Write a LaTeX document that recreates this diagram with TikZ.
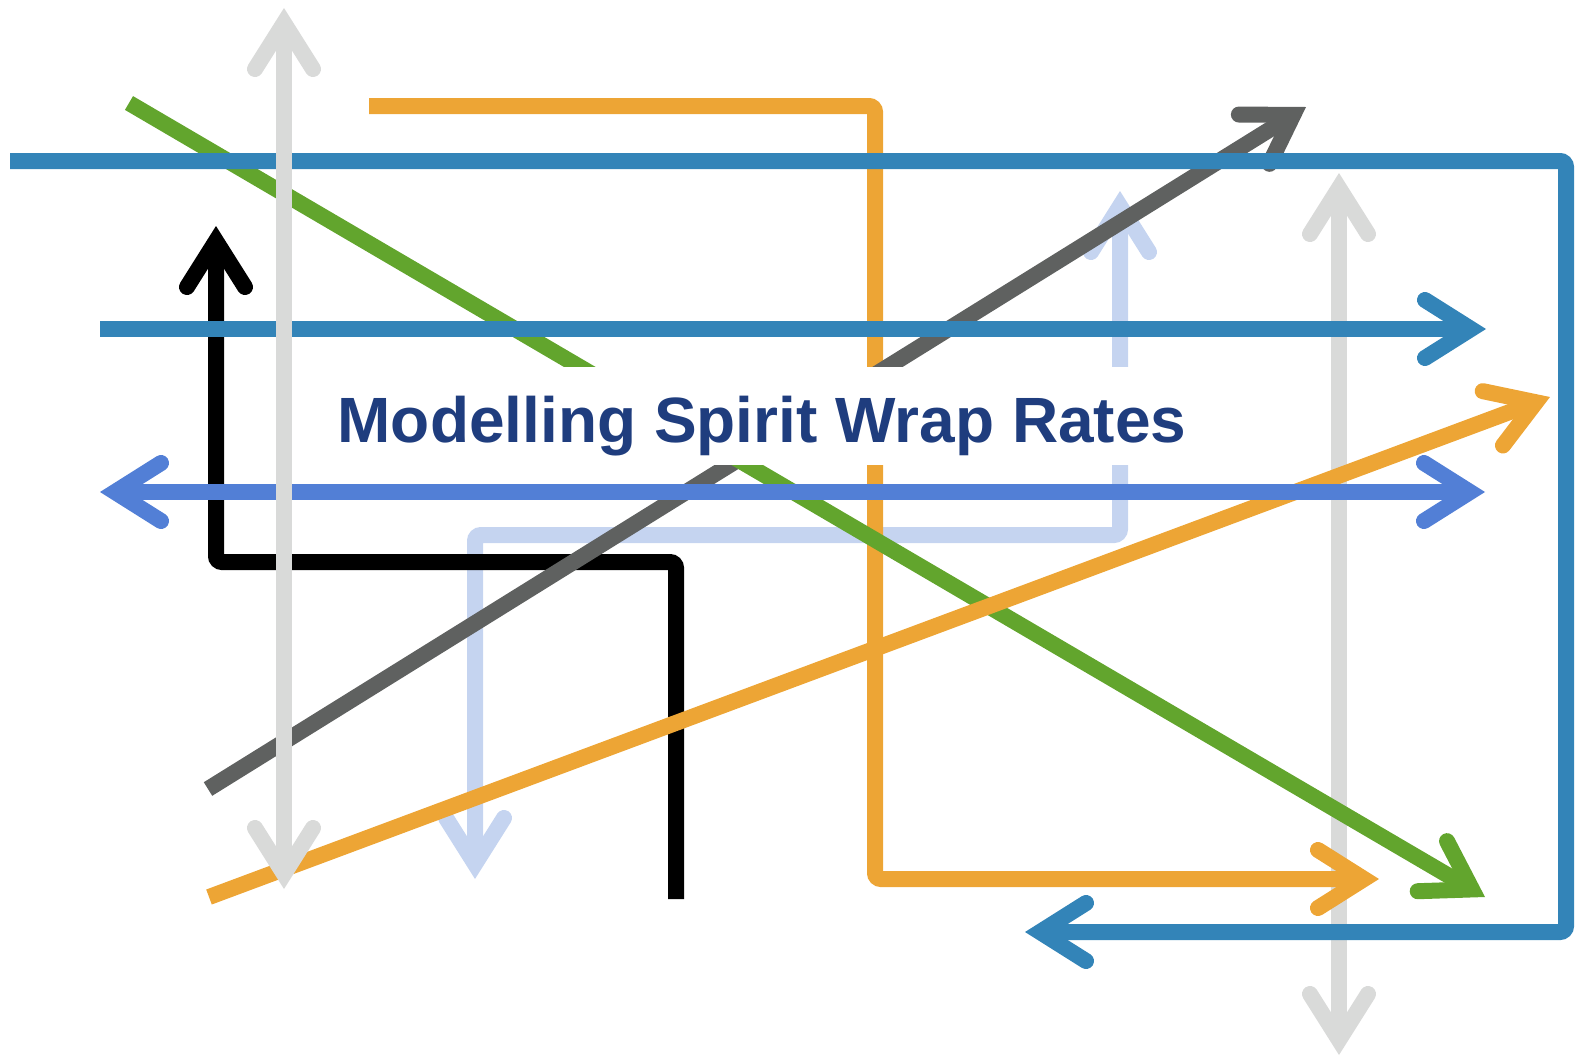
\documentclass[tikz,border=0pt]{standalone}
\usepackage{fontspec}
\setmainfont{Liberation Sans}
\usetikzlibrary{arrows.meta}

\definecolor{steelblue}{RGB}{51,132,184}
\definecolor{cornblue}{RGB}{82,127,214}
\definecolor{paleblue}{RGB}{197,212,240}
\definecolor{amber}{RGB}{237,165,53}
\definecolor{leaf}{RGB}{98,165,45}
\definecolor{slate}{RGB}{95,97,96}
\definecolor{mist}{RGB}{217,218,217}
\definecolor{navy}{RGB}{31,61,126}

\tikzset{
  chev/.tip={Straight Barb[length=23pt, width=29pt, line cap=round, line join=miter]},
  wire/.style={line width=8pt, rounded corners=3pt},
  titlebox/.style={fill=white, inner sep=0pt, minimum width=452pt, minimum height=49pt,
    text height=31pt, text depth=5pt, text=navy,
    font=\bfseries\fontsize{32}{38}\selectfont}
}

\begin{document}
\begin{tikzpicture}[x=0.5pt, y=-0.5pt]
    \useasboundingbox (0,0) rectangle (1575,1061);

    % Nodes
    \coordinate (gr-top) at (1339,173);
    \coordinate (gr-bot) at (1339,1055);
    \coordinate (pb-top) at (1120,191);
    \coordinate (pb-b1) at (1120,535);
    \coordinate (pb-b2) at (475,535);
    \coordinate (pb-bot) at (475,879);
    \coordinate (ol-start) at (369,106);
    \coordinate (ol-b1) at (875,106);
    \coordinate (ol-b2) at (875,879);
    \coordinate (ol-tip) at (1379,879);
    \coordinate (bk-tip) at (216,226);
    \coordinate (bk-b1) at (216,562);
    \coordinate (bk-b2) at (676,562);
    \coordinate (bk-end) at (676,899);
    \coordinate (dg-start) at (208,789);
    \coordinate (dg-tip) at (1306,107);
    \coordinate (gn-start) at (129,103);
    \coordinate (gn-tip) at (1485,897);
    \coordinate (sb-start) at (10,161);
    \coordinate (sb-b1) at (1566,161);
    \coordinate (sb-b2) at (1566,932);
    \coordinate (sb-tip) at (1025,932);
    \coordinate (sa-start) at (100,329);
    \coordinate (sa-tip) at (1486,329);
    \coordinate (od-start) at (209,897);
    \coordinate (od-tip) at (1550,397);
    \coordinate (cb-left) at (100,492);
    \coordinate (cb-right) at (1485,492);
    \coordinate (gl-top) at (284,8);
    \coordinate (gl-bot) at (284,889);

    % Edges
    \draw[wire, mist, {chev}-{chev}] (gr-top) -- (gr-bot);
    \draw[wire, paleblue, {chev}-{chev}] (pb-top) -- (pb-b1) -- (pb-b2) -- (pb-bot);
    \draw[wire, amber, -{chev}] (ol-start) -- (ol-b1) -- (ol-b2) -- (ol-tip);
    \draw[wire, black, {chev}-] (bk-tip) -- (bk-b1) -- (bk-b2) -- (bk-end);
    \draw[wire, slate, -{chev}] (dg-start) -- (dg-tip);
    \draw[wire, leaf, -{chev}] (gn-start) -- (gn-tip);
    \draw[wire, steelblue, -{chev}] (sb-start) -- (sb-b1) -- (sb-b2) -- (sb-tip);
    \draw[wire, steelblue, -{chev}] (sa-start) -- (sa-tip);
    \draw[wire, amber, -{chev}] (od-start) -- (od-tip);
    \draw[wire, cornblue, {chev}-{chev}] (cb-left) -- (cb-right);
    \draw[wire, mist, {chev}-{chev}] (gl-top) -- (gl-bot);

    % Title
    \node[titlebox] (title) at (762,416) {Modelling Spirit Wrap Rates};
\end{tikzpicture}
\end{document}
